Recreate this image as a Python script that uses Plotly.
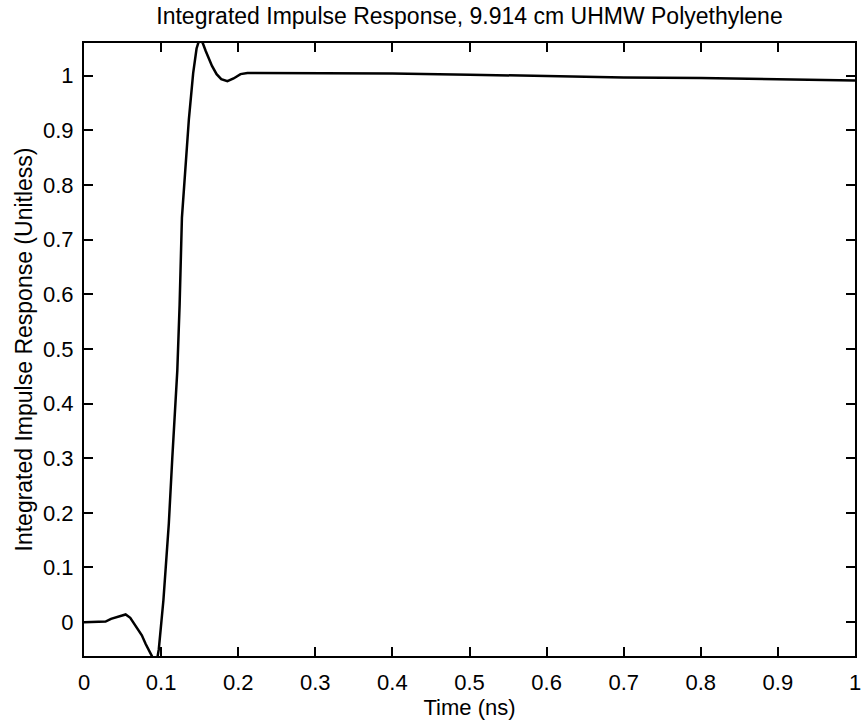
import plotly.graph_objects as go

# Time (ns)
time_ns = [0.000, 0.010, 0.020, 0.028, 0.035, 0.045, 0.054, 0.060, 0.064, 0.070,
           0.075, 0.080, 0.084, 0.088, 0.091, 0.094, 0.097, 0.100, 0.103, 0.106,
           0.110, 0.1145, 0.118, 0.121, 0.124, 0.127, 0.131, 0.136, 0.1416, 0.146,
           0.150, 0.154, 0.158, 0.166, 0.172, 0.178, 0.186, 0.194, 0.203, 0.212,
           0.222, 0.25, 0.30, 0.40, 0.50, 0.60, 0.70, 0.80, 0.90, 1.00]
# Integrated impulse response (unitless)
response = [0.000, 0.000, 0.000, 0.001, 0.006, 0.010, 0.014, 0.008, 0.000, -0.012,
            -0.024, -0.040, -0.051, -0.062, -0.078, -0.075, -0.050, -0.010, 0.040, 0.100,
            0.180, 0.300, 0.390, 0.460, 0.580, 0.740, 0.820, 0.920, 1.005, 1.050,
            1.068, 1.060, 1.045, 1.018, 1.003, 0.994, 0.990, 0.995, 1.003, 1.005,
            1.005, 1.005, 1.005, 1.004, 1.002, 0.999, 0.997, 0.996, 0.994, 0.9915]

x_ticks = [0, 0.1, 0.2, 0.3, 0.4, 0.5, 0.6, 0.7, 0.8, 0.9, 1]
x_tick_text = ["0", "0.1", "0.2", "0.3", "0.4", "0.5", "0.6", "0.7", "0.8", "0.9", "1"]
y_ticks = [0, 0.1, 0.2, 0.3, 0.4, 0.5, 0.6, 0.7, 0.8, 0.9, 1]
y_tick_text = ["0", "0.1", "0.2", "0.3", "0.4", "0.5", "0.6", "0.7", "0.8", "0.9", "1"]

FONT = "Liberation Sans, Arial, Helvetica, sans-serif"

fig = go.Figure()
fig.add_trace(go.Scatter(x=time_ns, y=response, mode="lines",
                         line=dict(color="black", width=2.5), showlegend=False))

axis_common = dict(showline=True, linecolor="black", linewidth=2, mirror="ticks",
                   ticks="inside", ticklen=9, tickwidth=2, tickcolor="black",
                   showgrid=False, zeroline=False,
                   tickfont=dict(family=FONT, size=22, color="black"))

fig.update_layout(
    width=867, height=725,
    margin=dict(l=84, r=6, t=43, b=69),
    paper_bgcolor="white", plot_bgcolor="white",
    title=dict(text="Integrated Impulse Response, 9.914 cm UHMW Polyethylene",
               font=dict(family=FONT, size=23, color="black"),
               x=0.5, xref="paper", y=1 - 16 / 725, yref="container",
               xanchor="center", yanchor="middle"),
    xaxis=dict(range=[0, 1], tickvals=x_ticks, ticktext=x_tick_text,
               ticklabelstandoff=6,
               title=dict(text="Time (ns)", font=dict(family=FONT, size=22, color="black"),
                          standoff=2),
               **axis_common),
    yaxis=dict(range=[-0.062, 1.06], tickvals=y_ticks, ticktext=y_tick_text,
               ticklabelstandoff=4,
               title=dict(text="Integrated Impulse Response (Unitless)",
                          font=dict(family=FONT, size=23, color="black"),
                          standoff=4),
               **axis_common),
)

fig.write_html("out.html")
